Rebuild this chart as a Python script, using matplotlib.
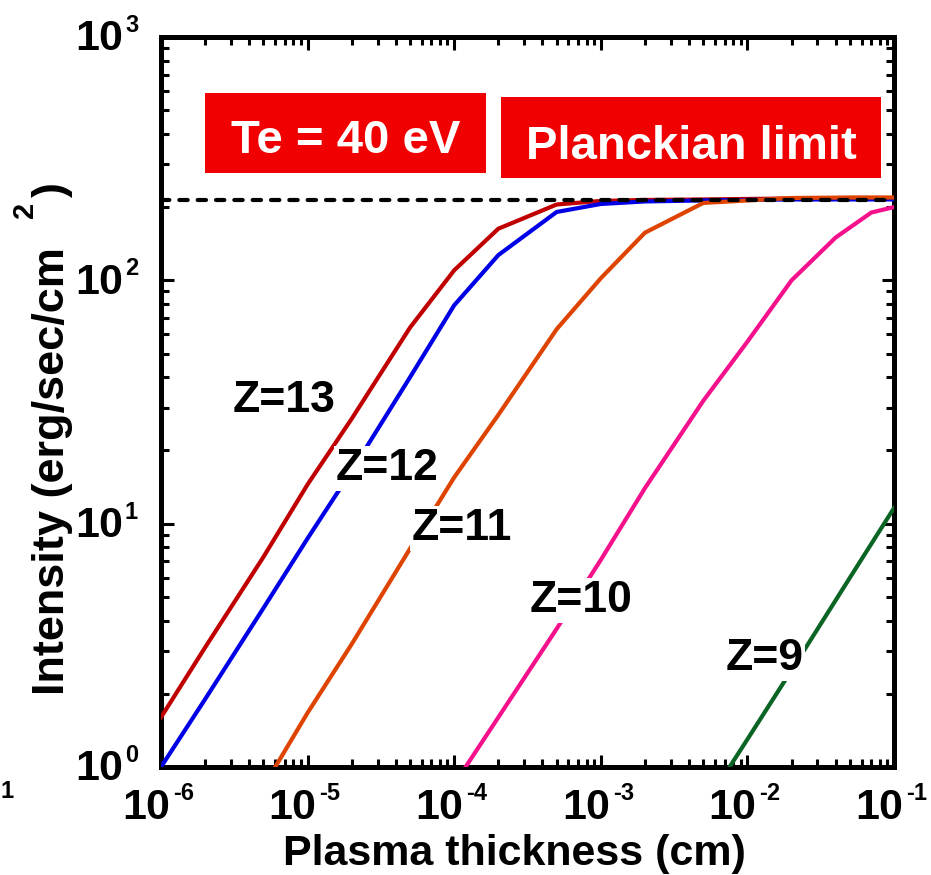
import matplotlib
matplotlib.use("Agg")

import matplotlib.pyplot as plt
from matplotlib.patches import Rectangle
from matplotlib.ticker import LogLocator, NullFormatter

plt.rcParams["font.family"] = ["Liberation Sans", "DejaVu Sans"]
plt.rcParams["font.weight"] = "bold"

# ─── Data: emergent intensity vs plasma thickness, Te = 40 eV ────────────
x_z13 = [1e-6, 2e-6, 5e-6, 1e-5, 2e-5, 5e-5, 1e-4, 2e-4, 5e-4, 1e-3,
         2e-3, 5e-3, 1e-2, 2e-2, 5e-2, 1e-1]
i_z13 = [1.6, 3.1, 7.3, 14.5, 27, 64, 110, 163, 205, 212,
         214, 215, 216, 217, 218, 218]

x_z12 = [1e-6, 2e-6, 5e-6, 1e-5, 2e-5, 5e-5, 1e-4, 2e-4, 5e-4, 1e-3,
         2e-3, 5e-3, 1e-2, 2e-2, 5e-2, 1e-1]
i_z12 = [1.0, 1.9, 4.5, 8.7, 16.5, 40, 79, 127, 191, 206,
         211, 213, 214, 215, 215, 215]

x_z11 = [5e-6, 1e-5, 2e-5, 5e-5, 1e-4, 2e-4, 5e-4, 1e-3, 2e-3, 5e-3,
         1e-2, 2e-2, 5e-2, 1e-1]
i_z11 = [0.83, 1.67, 3.2, 7.9, 15.5, 28, 63, 102, 157, 208,
         213, 218, 219, 219]

x_z10 = [1e-4, 2e-4, 5e-4, 1e-3, 2e-3, 5e-3, 1e-2, 2e-2, 4e-2, 7e-2, 1e-1]
i_z10 = [0.85, 1.6, 3.7, 7.1, 14, 32, 56, 100, 150, 190, 200]

x_z9 = [5e-3, 1e-2, 2e-2, 5e-2, 1e-1]
i_z9 = [0.68, 1.3, 2.5, 6.0, 11.6]

planck_limit = 214

series = [
    ("Z=13", x_z13, i_z13, "#c00000"),
    ("Z=12", x_z12, i_z12, "#0000e6"),
    ("Z=11", x_z11, i_z11, "#de4400"),
    ("Z=10", x_z10, i_z10, "#f5108c"),
    ("Z=9",  x_z9,  i_z9,  "#0a6424"),
]

# label anchor: (x centre, y baseline) in data coords
label_pos = {
    "Z=13": (6.9e-6, 28.8),
    "Z=12": (3.5e-5, 15.1),
    "Z=11": (1.13e-4, 8.57),
    "Z=10": (7.3e-4, 4.34),
    "Z=9":  (1.3e-2, 2.50),
}

x_ticks = [1e-6, 1e-5, 1e-4, 1e-3, 1e-2, 1e-1]
x_exps = ["-6", "-5", "-4", "-3", "-2", "-1"]
y_ticks = [1, 10, 100, 1000]
y_exps = ["0", "1", "2", "3"]

# ─── Figure ──────────────────────────────────────────────────────────────
fig = plt.figure(figsize=(9.31, 8.75), dpi=100, facecolor="white")
ax = fig.add_axes([0.1729, 0.1234, 0.7874, 0.8343])

for name, xs, ys, col in series:
    ax.plot(xs, ys, color=col, lw=3.0, solid_joinstyle="miter", zorder=3)

ax.axhline(planck_limit, color="black", lw=3.0, dashes=(2.0, 2.4),
           dash_capstyle="round", zorder=4)

for name, (lx, ly) in label_pos.items():
    ax.text(lx, ly, name, fontsize=32, fontweight="bold", ha="center",
            va="baseline", zorder=5,
            bbox=dict(boxstyle="square,pad=0.05", facecolor="white",
                      edgecolor="none"))

ax.set_xscale("log")
ax.set_yscale("log")
ax.set_xlim(1e-6, 1e-1)
ax.set_ylim(1, 1e3)

ax.set_xticks(x_ticks)
ax.set_yticks(y_ticks)
for axis in (ax.xaxis, ax.yaxis):
    axis.set_minor_locator(LogLocator(base=10, subs=range(2, 10), numticks=20))
    axis.set_minor_formatter(NullFormatter())

ax.tick_params(which="both", direction="in", top=True, right=True,
               width=2.2, colors="black", labelbottom=False, labelleft=False)
ax.tick_params(which="major", length=9)
ax.tick_params(which="minor", length=5.5)
for sp in ax.spines.values():
    sp.set_linewidth(3.6)

# decade labels: big "10" with a small raised exponent
for t, e in zip(x_ticks, x_exps):
    ax.annotate("10", xy=(t, 0), xycoords=("data", "axes fraction"),
                xytext=(6.5, -37.4), textcoords="offset points",
                fontsize=31, fontweight="bold", ha="right", va="baseline",
                annotation_clip=False)
    ax.annotate(e, xy=(t, 0), xycoords=("data", "axes fraction"),
                xytext=(8.6, -23.8), textcoords="offset points",
                fontsize=17, fontweight="bold", ha="left", va="baseline",
                annotation_clip=False)
for t, e in zip(y_ticks, y_exps):
    ax.annotate("10", xy=(0, t), xycoords=("axes fraction", "data"),
                xytext=(-27.4, -9.7), textcoords="offset points",
                fontsize=31, fontweight="bold", ha="right", va="baseline",
                annotation_clip=False)
    ax.annotate(e, xy=(0, t), xycoords=("axes fraction", "data"),
                xytext=(-25.9, 3.6), textcoords="offset points",
                fontsize=17, fontweight="bold", ha="left", va="baseline",
                annotation_clip=False)

# red boxes with white text
boxes = [
    ("Te = 40 eV",      0.060, 0.8137, 0.383, 0.110, 0.8411),
    ("Planckian limit", 0.4638, 0.8068, 0.5185, 0.111, 0.8329),
]
for txt, bx, by, bw, bh, base in boxes:
    ax.add_patch(Rectangle((bx, by), bw, bh, transform=ax.transAxes,
                           facecolor="#f00000", edgecolor="none", zorder=6))
    ax.text(bx + bw / 2, base, txt, transform=ax.transAxes,
            color="white", fontsize=34, fontweight="bold",
            ha="center", va="baseline", zorder=7)

fig.text(0.553, 1 - 865 / 875, "Plasma thickness (cm)", fontsize=31,
         fontweight="bold", ha="center", va="baseline")

# y label, with the cm^2 exponent set apart
ylab = dict(fontweight="bold", rotation=90, rotation_mode="anchor",
            ha="left", va="baseline")
fig.text(64 / 931, 1 - 695 / 875, "Intensity (erg/sec/cm", fontsize=32.5,
         **ylab)
fig.text(33 / 931, 1 - 218 / 875, "2", fontsize=21, **ylab)
fig.text(64 / 931, 1 - 197 / 875, ")", fontsize=32.5, **ylab)

fig.text(0.0, 0.088, "1", fontsize=17, fontweight="bold",
         ha="left", va="baseline")

fig.savefig("out.png", dpi=100, facecolor="white")
